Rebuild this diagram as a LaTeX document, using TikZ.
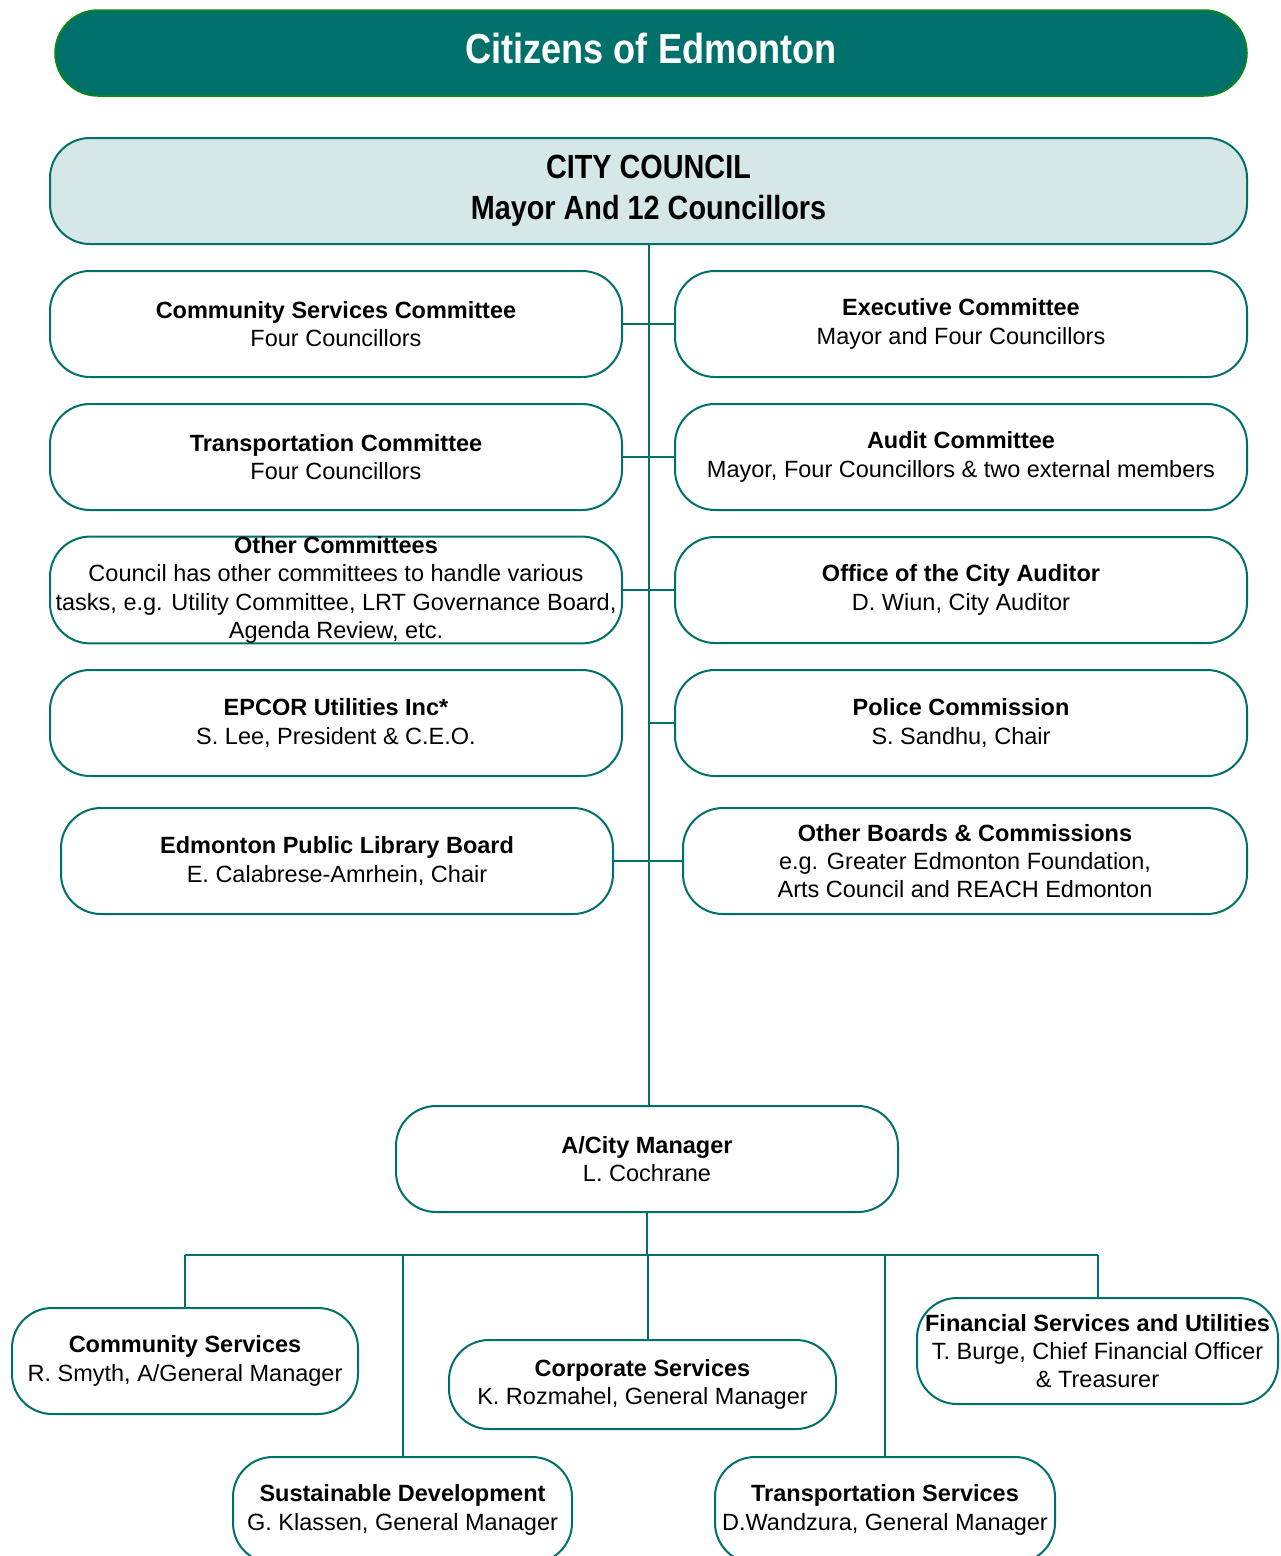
\documentclass[tikz,border=0pt]{standalone}
\usepackage{fontspec}
\setmainfont{Liberation Sans}
\newfontfamily\condfont[FakeStretch=0.86]{Liberation Sans}
\usetikzlibrary{positioning,calc}
\definecolor{edteal}{RGB}{0,112,107}
\definecolor{edgreen}{RGB}{10,140,10}
\definecolor{edpale}{RGB}{214,231,231}

\begin{document}
\begin{tikzpicture}[x=1pt, y=-1pt,
  box/.style={draw=edteal, line width=2pt, rounded corners=40pt, fill=white, inner sep=0pt,
    minimum width=572pt, minimum height=106pt, align=center,
    font=\fontsize{23.5pt}{28.3pt}\selectfont},
  link/.style={draw=edteal, line width=2pt}
]
  \useasboundingbox (0,0) rectangle (1281,1556);

  \node[draw=edgreen, line width=1.5pt, fill=edteal, rounded corners=43pt, minimum width=1192pt, minimum height=86pt,
    text depth=10pt, text=white, font=\condfont\fontsize{42pt}{48pt}\selectfont\bfseries] (cit) at (651,53) {Citizens of Edmonton};
  \node[box, fill=edpale, minimum width=1197pt, font=\condfont\fontsize{33.5pt}{41pt}\selectfont\bfseries] (council) at (648.5,191)
    {CITY COUNCIL\\Mayor And 12 Councillors};

  \node[box] (csc) at (336,324) {\textbf{Community Services Committee}\\Four Councillors};
  \node[box] (exec) at (961,324) {\textbf{Executive Committee}\\Mayor and Four Councillors};
  \node[box] (tc) at (336,457) {\textbf{Transportation Committee}\\Four Councillors};
  \node[box] (audit) at (961,457) {\textbf{Audit Committee}\\Mayor, Four Councillors \& two external members};
  \node[box] (oc) at (336,590) {\textbf{Other Committees}\\Council has other committees to handle various\\tasks, e.g. Utility Committee, LRT Governance Board,\\Agenda Review, etc.};
  \node[box] (oca) at (961,590) {\textbf{Office of the City Auditor}\\D. Wiun, City Auditor};
  \node[box] (epcor) at (336,723) {\textbf{EPCOR Utilities Inc*}\\S. Lee, President \& C.E.O.};
  \node[box] (police) at (961,723) {\textbf{Police Commission}\\S. Sandhu, Chair};
  \node[box, minimum width=552pt] (epl) at (337,861) {\textbf{Edmonton Public Library Board}\\E. Calabrese-Amrhein, Chair};
  \node[box, minimum width=564pt] (obc) at (965,861) {\textbf{Other Boards \& Commissions}\\e.g. Greater Edmonton Foundation,\\Arts Council and REACH Edmonton};

  \node[box, minimum width=502pt] (mgr) at (647,1159) {\textbf{A/City Manager}\\L. Cochrane};

  \node[box, minimum width=346pt] (comsvc) at (185,1361) {\textbf{Community Services}\\R. Smyth, A/General Manager};
  \node[box, minimum width=387pt, minimum height=89pt] (corpsvc) at (642.5,1384.5) {\textbf{Corporate Services}\\K. Rozmahel, General Manager};
  \node[box, minimum width=361pt] (finsvc) at (1097.5,1351) {\textbf{Financial Services and Utilities}\\T. Burge, Chief Financial Officer\\\& Treasurer};
  \node[box, minimum width=339pt] (sustdev) at (402.5,1510) {\textbf{Sustainable Development}\\G. Klassen, General Manager};
  \node[box, minimum width=340pt] (transsvc) at (885,1510) {\textbf{Transportation Services}\\D.Wandzura, General Manager};

  \coordinate (bus) at (648,1255);

  \draw[link] (council.south) -- (council.south |- mgr.north);
  \foreach \n in {csc,tc,oc}
    \draw[link] (\n.east) -- (\n.east -| council.south);
  \foreach \n in {exec,audit,oca,police}
    \draw[link] (\n.west) -- (\n.west -| council.south);
  \draw[link] (epl.east) -- (obc.west);

  \draw[link] (mgr.south) -- (mgr.south |- bus);
  \draw[link] (comsvc.north |- bus) -- (finsvc.north |- bus);
  \foreach \n in {comsvc,sustdev,transsvc,finsvc}
    \draw[link] (\n.north |- bus) -- (\n.north);
  \draw[link] (bus) -- (bus |- corpsvc.north);
\end{tikzpicture}
\end{document}
